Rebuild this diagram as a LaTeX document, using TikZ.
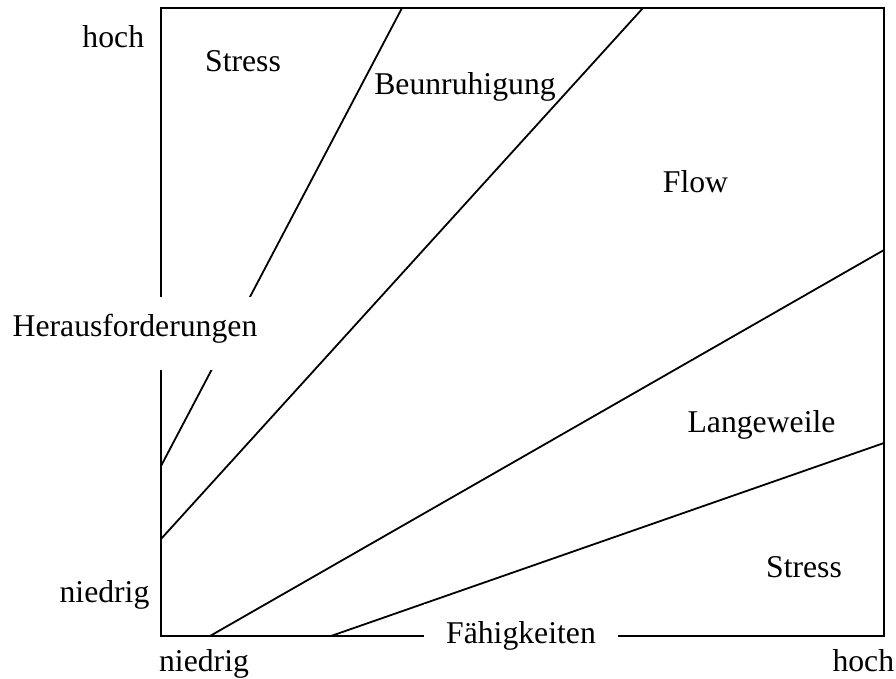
\documentclass[tikz,border=0pt]{standalone}
\usepackage{fontspec}
\setmainfont{Liberation Serif}
\begin{document}
\begin{tikzpicture}[x=1pt,y=-1pt,
  frame/.style={line width=2.4pt,line cap=rect},
  zone/.style={line width=1.8pt},
  lbl/.style={anchor=base,inner sep=0pt,font=\fontsize{31.7}{38}\selectfont},
  axislbl/.style={lbl,fill=white,inner xsep=22pt,inner ysep=18pt,
    text height=21.6pt,text depth=15pt}]
  \useasboundingbox (0,0) rectangle (896,679);

  % frame corners
  \coordinate (tl) at (161,8);
  \coordinate (br) at (884,636);

  % end points of the zone boundaries
  \coordinate (a1) at (161,466);  \coordinate (a2) at (402,8);
  \coordinate (b1) at (161,539);  \coordinate (b2) at (643,8);
  \coordinate (c1) at (210,636);  \coordinate (c2) at (884,250);
  \coordinate (d1) at (331,636);  \coordinate (d2) at (884,443);

  \draw[frame] (tl) rectangle (br);
  \draw[zone] (a1) -- (a2);
  \draw[zone] (b1) -- (b2);
  \draw[zone] (c1) -- (c2);
  \draw[zone] (d1) -- (d2);

  % zone names
  \node[lbl] (stress1) at (243,71.7) {Stress};
  \node[lbl] (worry)   at (465,95)   {Beunruhigung};
  \node[lbl] (flow)    at (695.5,192.7) {Flow};
  \node[lbl] (bored)   at (761.5,432.7) {Langeweile};
  \node[lbl] (stress2) at (804,577.7) {Stress};

  % axis scale
  \node[lbl] (yhi) at (113.3,47.3)  {hoch};
  \node[lbl] (ylo) at (104.5,602.7) {niedrig};
  \node[lbl] (xlo) at (204,671)     {niedrig};
  \node[lbl] (xhi) at (863.3,671)   {hoch};

  % axis titles, blanking the lines behind them
  \node[axislbl] (ytitle) at (135,336.7) {Herausforderungen};
  \node[axislbl] (xtitle) at (521,643.3) {Fähigkeiten};
\end{tikzpicture}
\end{document}
